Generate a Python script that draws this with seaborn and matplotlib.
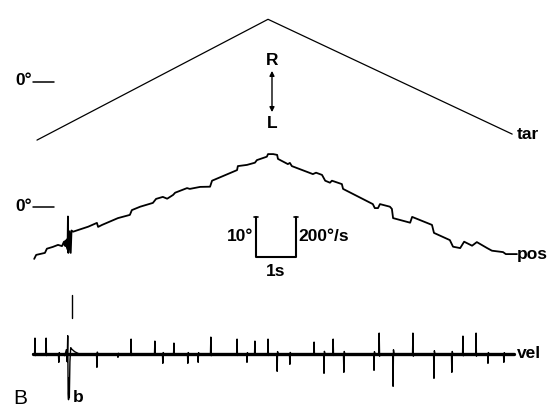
import numpy as np
import pandas as pd
import seaborn as sns
import matplotlib.pyplot as plt

sns.set_style('white')
plt.rcParams['font.family'] = ['Liberation Sans', 'DejaVu Sans']

# target ramp (s, deg)
tar_t = [0.10, 5.92, 12.07]
tar_deg = [-14.6, 15.6, -13.1]

# eye position (s, deg)
pos_t = [0.03, 0.08, 0.30, 0.35, 0.50, 0.63, 0.73,
         0.78, 0.80, 0.82, 0.84, 0.86, 0.87, 0.88, 0.89, 0.92, 0.95, 0.97, 1.01,
         1.13, 1.39, 1.61, 1.64, 1.74, 2.14, 2.44, 2.49, 2.70, 3.02, 3.10, 3.27,
         3.38, 3.53, 3.58, 3.88, 3.95, 4.21, 4.46, 4.51, 5.14, 5.16, 5.39, 5.59,
         5.64, 5.89, 5.92, 6.05, 6.15, 6.17, 6.42, 6.47, 6.52, 7.05, 7.13, 7.28,
         7.36, 7.48, 7.53, 7.78, 7.81, 8.56, 8.61, 8.69, 8.74, 8.99, 9.04, 9.07,
         9.50, 9.55, 10.05, 10.10, 10.50, 10.58, 10.76, 10.86, 11.06, 11.18,
         11.44, 11.56, 11.84, 11.91, 12.19]
pos_deg = [-12.9, -11.9, -11.4, -10.35, -9.9, -9.4, -9.7,
           -8.6, -9.6, -8.3, -9.8, -8.0, -10.5, -2.3, -11.4, -6.0, -11.4, -5.8, -6.1,
           -5.7, -4.85, -3.9, -4.9, -4.4, -2.7, -1.9, -0.7, 0.15, 1.1, 2.1, 2.6,
           2.15, 3.1, 3.65, 4.8, 4.6, 5.1, 5.15, 6.65, 9.3, 10.3, 10.6, 11.15,
           11.8, 12.65, 13.3, 13.3, 13.1, 12.1, 10.8, 11.1, 10.3, 8.3, 8.65, 8.1,
           6.65, 6.15, 6.65, 5.8, 4.6, 0.8, -0.2, -0.2, 0.8, 0.15, -0.4, -2.7,
           -3.85, -2.4, -4.4, -6.4, -8.2, -9.85, -10.2, -8.6, -9.6, -8.7,
           -10.2, -10.85, -11.2, -11.7, -11.7]

# eye velocity: saccade spikes (s, deg/s)
spike_t = [0.05, 0.33, 0.65, 1.61, 2.14, 2.47, 3.07, 3.27, 3.55, 3.90, 4.16,
           4.48, 5.14, 5.39, 5.59, 5.92, 6.15, 6.47, 7.08, 7.33, 7.56, 7.83,
           8.59, 8.72, 9.07, 9.57, 10.10, 10.55, 10.83, 11.16, 11.46, 11.86]
spike_amp = [78, 78, -43, -68, -18, 73, 63, -48, 53, -48, -43,
             83, 73, -43, 63, 73, -88, -53, 58, -98, 73, -93,
             -83, 103, -163, 103, -123, -93, 88, 103, -48, -43]

# blink artefact on the velocity trace
blink_t = [0.74, 0.80, 0.84, 0.86, 0.875, 0.885, 0.895, 0.905, 0.915, 0.93,
           0.95, 0.98, 1.05, 1.15]
blink_v = [0, -10, 20, -40, 90, -200, -230, -120, -220, -40, 30, 22, 10, 0]

vel_start, vel_end = 0.0, 12.12

W, H = 549, 407
X0, PX_PER_S = 33, 39.7

fig = plt.figure(figsize=(5.49, 4.07), dpi=100)


def trace_axes(zero_px, px_per_unit):
    ax = fig.add_axes([0, 0, 1, 1])
    ax.set_xlim(-X0 / PX_PER_S, (W - X0) / PX_PER_S)
    ax.set_ylim((zero_px - H) / px_per_unit, zero_px / px_per_unit)
    ax.axis('off')
    ax.patch.set_alpha(0)
    return ax


txt = dict(fontsize=12.5, fontweight='bold', color='black')

# target
ax_tar = trace_axes(81.7, 4.0)
sns.lineplot(x=tar_t, y=tar_deg, ax=ax_tar, color='black', lw=0.9,
             sort=False, estimator=None)
ax_tar.plot([0.0, 0.53], [0, 0], color='black', lw=1.1)
ax_tar.text(-0.02, 0.2, '0°', ha='right', va='center', **txt)
ax_tar.text(12.18, -13.1, 'tar', ha='left', va='center', **txt)
ax_tar.text(6.02, 5.4, 'R', ha='center', va='center', **txt)
ax_tar.text(6.02, -10.4, 'L', ha='center', va='center', **txt)
ax_tar.annotate('', xy=(6.02, 3.4), xytext=(6.02, -8.3),
                arrowprops=dict(arrowstyle='<|-|>', color='black', lw=1.0,
                                mutation_scale=7))

# position
ax_pos = trace_axes(207.3, 4.0)
sns.lineplot(x=pos_t, y=pos_deg, ax=ax_pos, color='black', lw=1.3,
             sort=False, estimator=None)
ax_pos.plot([0.0, 0.53], [0, 0], color='black', lw=1.1)
ax_pos.text(-0.02, 0.2, '0°', ha='right', va='center', **txt)
ax_pos.text(12.18, -11.7, 'pos', ha='left', va='center', **txt)

# scale bar
ax_pos.plot([5.62, 5.62, 6.62, 6.62], [-2.35, -12.35, -12.35, -2.35],
            color='black', lw=1.5)
ax_pos.plot([5.57, 5.67], [-2.35, -2.35], color='black', lw=1.2)
ax_pos.plot([6.57, 6.67], [-2.35, -2.35], color='black', lw=1.2)
ax_pos.text(5.56, -7.4, '10°', ha='right', va='center', **txt)
ax_pos.text(6.69, -7.4, '200°/s', ha='left', va='center', **txt)
ax_pos.text(6.12, -16.0, '1s', ha='center', va='center', **txt)

# velocity
t_pts, v_pts = [vel_start], [0.0]
for ts, a in zip(spike_t, spike_amp):
    t_pts += [ts - 0.01, ts, ts + 0.01, ts + 0.025]
    v_pts += [0, a, -0.12 * a, 0]
t_pts += blink_t + [vel_end]
v_pts += blink_v + [0.0]
vel = pd.DataFrame({'t': t_pts, 'v': v_pts}).sort_values('t', kind='stable')

ax_vel = trace_axes(353.7, 0.2)
ax_vel.plot([vel_start, vel_end], [0, 0], color='black', lw=2.4)
sns.lineplot(data=vel, x='t', y='v', ax=ax_vel, color='black', lw=1.0,
             sort=False, estimator=None)
ax_vel.plot([0.97, 0.97], [178, 293], color='black', lw=1.0)
ax_vel.text(12.18, 0, 'vel', ha='left', va='center', **txt)
ax_vel.text(1.0, -218, 'b', ha='left', va='center', **txt)

fig.text(13 / W, 1 - 399 / H, 'B', ha='left', va='center', fontsize=15,
         color='black')

fig.savefig('out.png', dpi=100)
